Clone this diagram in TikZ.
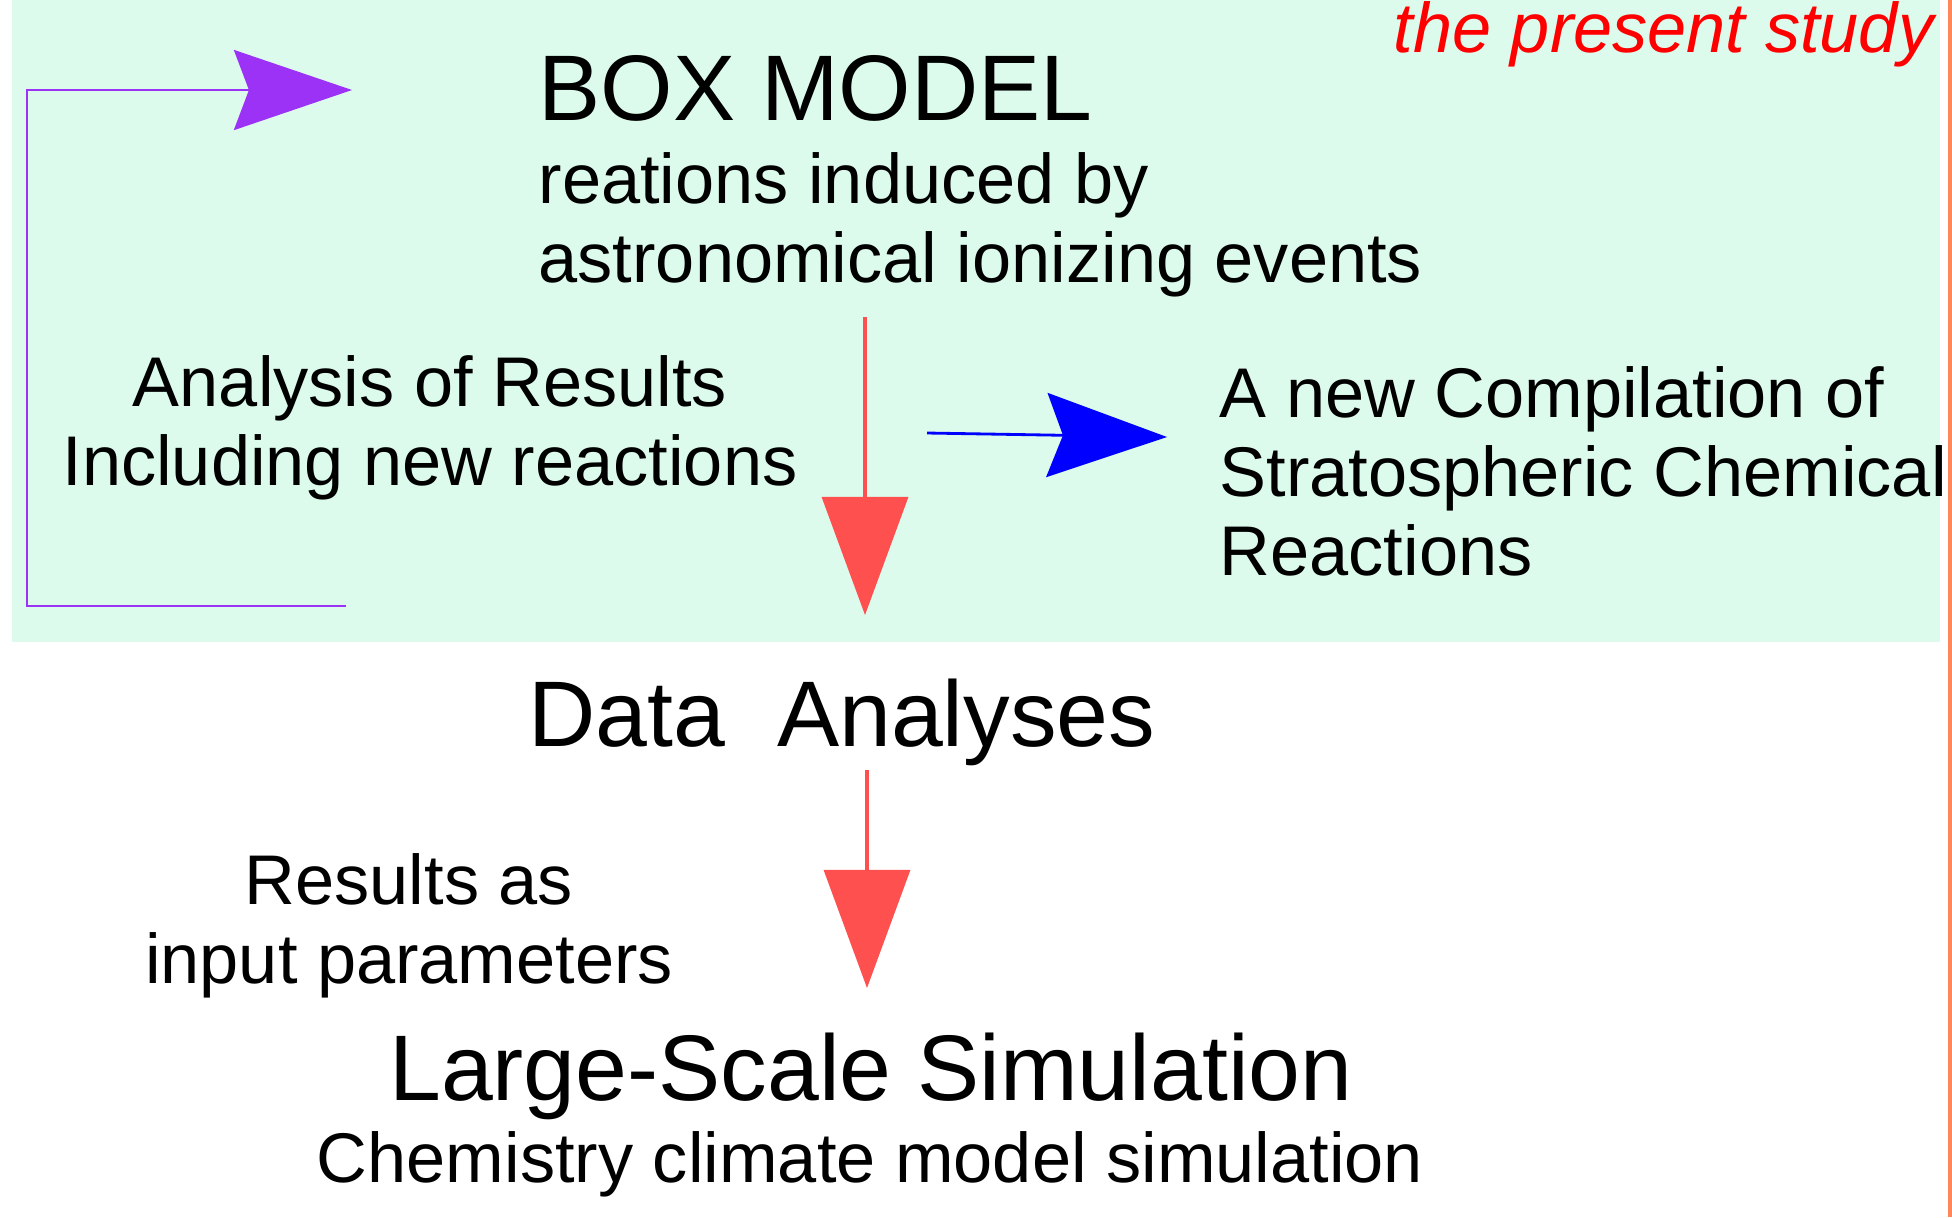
\documentclass[tikz,border=0pt]{standalone}
\usepackage{fontspec}
\setmainfont{Liberation Sans}
\usetikzlibrary{arrows.meta}
\definecolor{mint}{RGB}{221,251,236}
\definecolor{loopviolet}{RGB}{155,50,245}
\definecolor{flowred}{RGB}{255,80,80}
\definecolor{edgeorange}{RGB}{255,135,90}
\tikzstyle{bigtext}=[font=\fontsize{26.5}{31}\selectfont, inner sep=0pt]
\tikzstyle{smalltext}=[font=\fontsize{20}{22.4}\selectfont, inner sep=0pt]
\tikzstyle{downarrow} = [draw=flowred, line width=0.9pt, -{Triangle[length=1.18cm,width=0.86cm]}]
\tikzstyle{sidearrow} = [draw=blue, line width=0.8pt, -{Stealth[length=1.2cm,width=0.84cm,inset=0.16cm]}]
\tikzstyle{looparrow} = [draw=loopviolet, line width=0.7pt, -{Stealth[length=1.18cm,width=0.8cm,inset=0.15cm]}]

\begin{document}
\begin{tikzpicture}[x=0.01cm, y=-0.01cm]
    \useasboundingbox (0,0) rectangle (1952,1217);
    % the part done in the present study
    \fill[mint] (12,0) rectangle (1940,642);
    \draw[edgeorange, line width=1pt] (1950,0) -- (1950,1217);

    % First the texts (base = baseline of the last line)
    \node[smalltext, anchor=base west, red] (study) at (1393,52) {\itshape the present study};
    \node[bigtext, anchor=base west] (box) at (538,120) {BOX MODEL};
    \node[smalltext, anchor=base west, align=left] (boxsub) at (538,282) {reations induced by\\astronomical ionizing events};
    \node[smalltext, anchor=base, align=center] (analysis) at (430,485) {Analysis of Results\\Including new reactions};
    \node[smalltext, anchor=base west, align=left] (compilation) at (1219,575) {A new Compilation of\\Stratospheric Chemical\\Reactions};
    \node[bigtext, anchor=base] (data) at (842,746) {Data\ \ Analyses};
    \node[smalltext, anchor=base, align=center] (input) at (409,983) {Results as\\input parameters};
    \node[bigtext, anchor=base] (lss) at (871,1100) {Large-Scale Simulation};
    \node[smalltext, anchor=base] (ccm) at (870,1182) {Chemistry climate model simulation};

    % arrow ends
    \coordinate (r1s) at (865,317);
    \coordinate (r1e) at (865,615);
    \coordinate (r2s) at (867,770);
    \coordinate (r2e) at (867,988);
    \coordinate (b1s) at (927,433);
    \coordinate (b1e) at (1167,437);
    \coordinate (l1) at (346,606);
    \coordinate (l2) at (27,606);
    \coordinate (l3) at (27,90);
    \coordinate (l4) at (352,90);

    % Connect with arrows
    \foreach \source/\dest in {r1s/r1e, r2s/r2e}
        \path[downarrow] (\source) -- (\dest);
    \path[sidearrow] (b1s) -- (b1e);
    \path[looparrow] (l1) -- (l2) -- (l3) -- (l4);
\end{tikzpicture}
\end{document}
